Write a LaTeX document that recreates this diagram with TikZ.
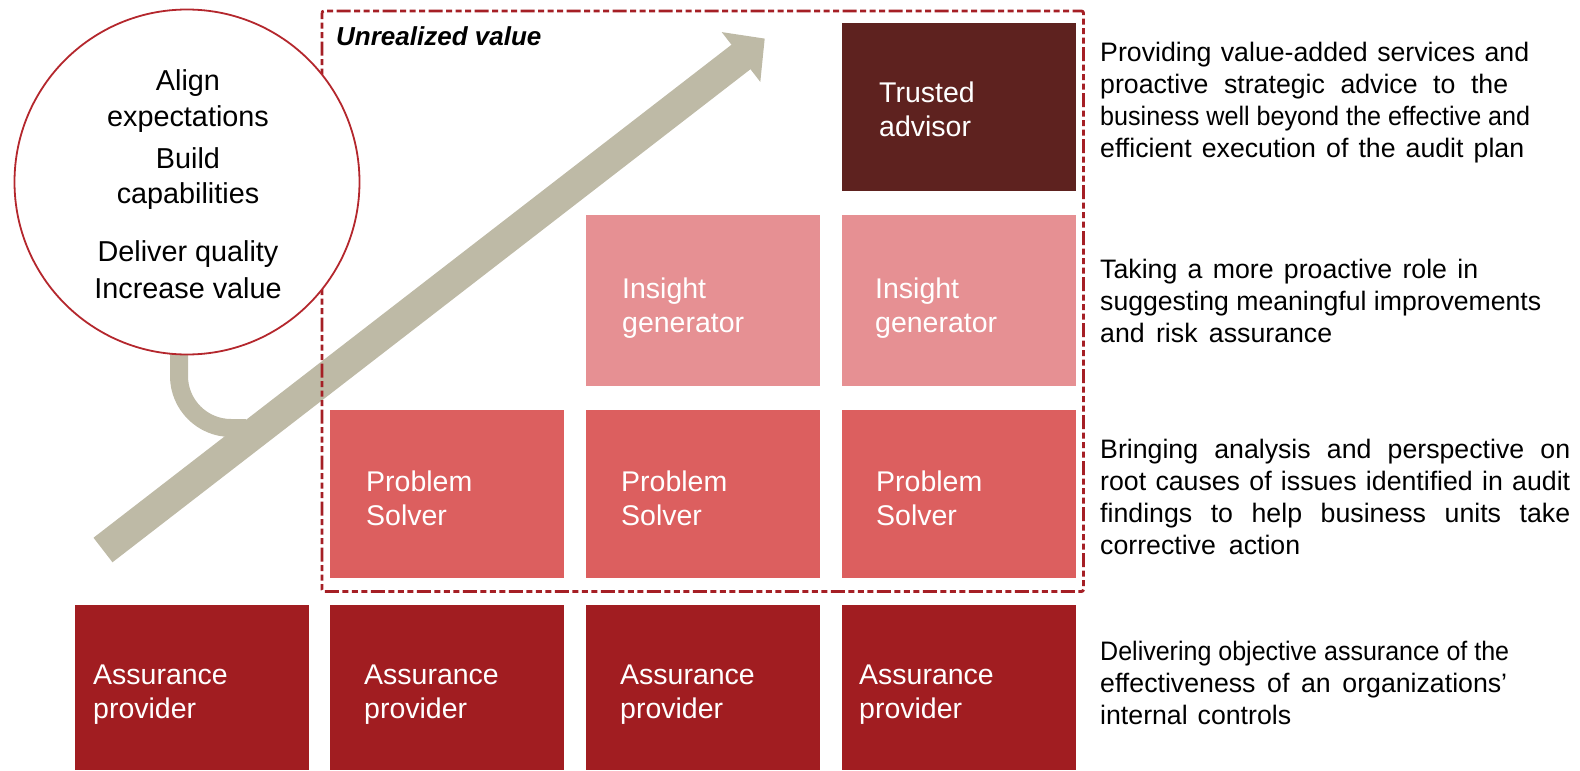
\documentclass[tikz,border=0pt]{standalone}
\usepackage{fontspec}
\usepackage{graphicx}
\setmainfont{Liberation Sans}
\definecolor{apcol}{HTML}{A11D21}
\definecolor{pscol}{HTML}{DC5F5F}
\definecolor{igcol}{HTML}{E69093}
\definecolor{tacol}{HTML}{5E221F}
\definecolor{arrcol}{HTML}{BEBAA6}
\definecolor{framecol}{HTML}{A51F25}
\definecolor{circcol}{HTML}{B4272D}
\newcommand\mylines[1]{\vtop{\halign{##\hfil\cr#1\crcr}}}
\newlength\fitw
\newcommand\fitline[2]{\settowidth\fitw{#2}\ifdim\fitw<#1\makebox[#1][s]{#2}\else\resizebox{#1}{\height}{#2}\fi}
\begin{document}
\begin{tikzpicture}[x=1pt,y=-1pt,
  box/.style={minimum width=234pt, inner sep=0pt, draw=none, anchor=center},
  aprow/.style={box, fill=apcol, minimum height=165pt},
  psrow/.style={box, fill=pscol, minimum height=168pt},
  igrow/.style={box, fill=igcol, minimum height=171pt},
  tarow/.style={box, fill=tacol, minimum height=168pt},
  boxtxt/.style={anchor=base west, inner sep=0pt, text=white, font=\fontsize{28.5}{34.5}\selectfont},
  desc/.style={anchor=base west, inner sep=0pt, text=black, font=\fontsize{26.7}{32}\selectfont},
  ctxt/.style={anchor=base, inner sep=0pt, text=black, font=\fontsize{28.8}{34}\selectfont},
  framestyle/.style={draw=framecol, line width=2.8pt, rounded corners=2pt,
    dash pattern=on 6pt off 3.5pt on 6pt off 3.5pt on 6pt off 3.5pt on 14pt off 3.5pt},
  shaft/.style={draw=arrcol, line width=31pt, line cap=butt},
  branchstyle/.style={draw=arrcol, line width=18pt, line cap=butt}
]
\useasboundingbox (0,0) rectangle (1580,771);

% arrow
\coordinate (as) at (103,550);
\coordinate (ab) at (742.5,55.8);
\coordinate (hl) at (721.7,32.1);
\coordinate (ht) at (764.7,38.6);
\coordinate (hr) at (760.3,81.9);
\draw[shaft] (as) -- (ab);
\fill[arrcol] (hl) -- (ht) -- (hr) -- cycle;
\coordinate (bs) at (179,340);
\draw[branchstyle] (bs) -- (179,376) .. controls (179,404.7) and (202.3,428) .. (231,428) -- (246,428);

% frame
\draw[framestyle] (322,11) rectangle (1083.5,591.5);

% circle
\node[circle, draw=circcol, line width=1.8pt, fill=white, minimum size=345pt, inner sep=0pt] (circ) at (187,182) {};
\node[ctxt] (c1) at (188,90) {Align};
\node[ctxt] (c2) at (188,126) {expectations};
\node[ctxt] (c3) at (188,168) {Build};
\node[ctxt] (c4) at (188,203) {capabilities};
\node[ctxt] (c5) at (188,261) {Deliver quality};
\node[ctxt] (c6) at (188,298) {Increase value};

\node[anchor=base west, inner sep=0pt, font=\fontsize{26}{30}\selectfont\bfseries\itshape] (uv) at (336,45) {Unrealized value};

% boxes
\node[tarow] (ta4) at (958.5,107) {};
\node[igrow] (ig3) at (703,300.5) {};
\node[igrow] (ig4) at (958.5,300.5) {};
\node[psrow] (ps2) at (447,494) {};
\node[psrow] (ps3) at (703,494) {};
\node[psrow] (ps4) at (958.5,494) {};
\node[aprow] (ap1) at (192,687.5) {};
\node[aprow] (ap2) at (447,687.5) {};
\node[aprow] (ap3) at (703,687.5) {};
\node[aprow] (ap4) at (958.5,687.5) {};

\node[boxtxt] (tt4) at (879,102) {\mylines{Trusted\cr advisor}};
\node[boxtxt] (it3) at (622,298) {\mylines{Insight\cr generator}};
\node[boxtxt] (it4) at (875,298) {\mylines{Insight\cr generator}};
\node[boxtxt] (pt2) at (366,491) {\mylines{Problem\cr Solver}};
\node[boxtxt] (pt3) at (621,491) {\mylines{Problem\cr Solver}};
\node[boxtxt] (pt4) at (876,491) {\mylines{Problem\cr Solver}};
\node[boxtxt] (at1) at (93,684) {\mylines{Assurance\cr provider}};
\node[boxtxt] (at2) at (364,684) {\mylines{Assurance\cr provider}};
\node[boxtxt] (at3) at (620,684) {\mylines{Assurance\cr provider}};
\node[boxtxt] (at4) at (859,684) {\mylines{Assurance\cr provider}};

% descriptions
\node[desc] (d1) at (1100,61) {\mylines{\fitline{429pt}{Providing value-added services and}\cr
  \fitline{408pt}{proactive strategic advice to the}\cr
  \fitline{430pt}{business well beyond the effective and}\cr
  \fitline{424pt}{efficient execution of the audit plan}}};
\node[desc] (d2) at (1100,278) {\mylines{\fitline{378pt}{Taking a more proactive role in}\cr
  \fitline{441pt}{suggesting meaningful improvements}\cr
  \fitline{232pt}{and risk assurance}}};
\node[desc] (d3) at (1100,458) {\mylines{\fitline{470pt}{Bringing analysis and perspective on}\cr
  \fitline{470pt}{root causes of issues identified in audit}\cr
  \fitline{470pt}{findings to help business units take}\cr
  \fitline{200pt}{corrective action}}};
\node[desc] (d4) at (1100,660) {\mylines{\fitline{409pt}{Delivering objective assurance of the}\cr
  \fitline{407pt}{effectiveness of an organizations’}\cr
  \fitline{191pt}{internal controls}}};
\end{tikzpicture}
\end{document}
